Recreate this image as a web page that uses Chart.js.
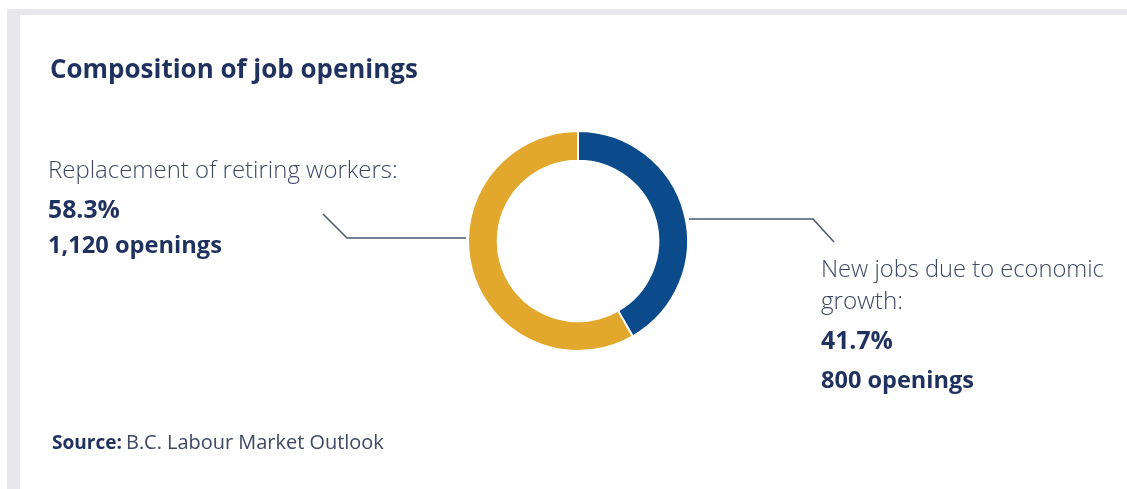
<!DOCTYPE html>
<html>
<head>
<meta charset="utf-8">
<script src="https://cdn.jsdelivr.net/npm/chart.js@4.4.1/dist/chart.umd.min.js"></script>
<style>
  html, body { margin: 0; padding: 0; background: #fff; }
  #wrap { position: relative; width: 1127px; height: 489px; background: #fff; }
  #topband { position: absolute; left: 7px; top: 9px; width: 1120px; height: 6px; background: #e7e7ec; }
  #leftband { position: absolute; left: 7px; top: 9px; width: 13px; height: 480px; background: #e7e7ec; }
  canvas { position: absolute; left: 0; top: 0; }
</style>
</head>
<body>
<div id="wrap">
  <div id="topband"></div>
  <div id="leftband"></div>
  <canvas id="donut" width="1127" height="489"></canvas>
</div>
<script>
var title = 'Composition of job openings';
var categories = ['New jobs due to economic growth', 'Replacement of retiring workers'];
var shares = [41.7, 58.3];
var openings = [800, 1120];
var colors = ['#0b4a8b', '#e2a82d'];

var navy = '#1f315e';
var grey = '#3e4863';

// draws a string so it fills the given width (font size adjusted)
function fitText(ctx, str, x, y, width, weight, family) {
    var size = 20;
    ctx.font = weight + ' ' + size + 'px ' + family;
    size = size * width / ctx.measureText(str).width;
    ctx.font = weight + ' ' + size + 'px ' + family;
    ctx.fillText(str, x, y);
    return size;
}

var annotations = {
    id: 'annotations',
    afterDraw: function(chart) {
        var ctx = chart.ctx;
        ctx.save();
        ctx.textBaseline = 'alphabetic';
        ctx.textAlign = 'left';

        ctx.fillStyle = navy;
        fitText(ctx, title, 50, 78, 368, 'bold', '"Open Sans"');

        // left label (retiring workers)
        ctx.fillStyle = grey;
        fitText(ctx, categories[1] + ':', 48, 178, 350, '300', '"Open Sans"');
        ctx.fillStyle = navy;
        fitText(ctx, shares[1].toFixed(1) + '%', 48, 218, 72, 'bold', '"Open Sans"');
        fitText(ctx, openings[1].toLocaleString('en-US') + ' openings', 48, 253, 174, 'bold', '"Open Sans"');

        // right label (economic growth)
        ctx.fillStyle = grey;
        fitText(ctx, 'New jobs due to economic', 821, 277, 283, '300', '"Open Sans"');
        fitText(ctx, 'growth:', 821, 309, 82, '300', '"Open Sans"');
        ctx.fillStyle = navy;
        fitText(ctx, shares[0].toFixed(1) + '%', 821, 349, 72, 'bold', '"Open Sans"');
        fitText(ctx, openings[0].toLocaleString('en-US') + ' openings', 821, 388, 153, 'bold', '"Open Sans"');

        // source
        ctx.fillStyle = navy;
        fitText(ctx, 'Source:', 52, 449, 70, 'bold', '"Open Sans"');
        ctx.fillStyle = grey;
        fitText(ctx, 'B.C. Labour Market Outlook', 126, 449, 258, 'normal', '"Open Sans"');

        // leader lines
        ctx.strokeStyle = '#4a5670';
        ctx.lineWidth = 1.5;
        ctx.beginPath();
        ctx.moveTo(323, 214);
        ctx.lineTo(347, 238);
        ctx.lineTo(466, 238);
        ctx.stroke();
        ctx.beginPath();
        ctx.moveTo(689, 219);
        ctx.lineTo(813, 219);
        ctx.lineTo(834, 242);
        ctx.stroke();
        ctx.restore();
    }
};

new Chart(document.getElementById('donut').getContext('2d'), {
    type: 'doughnut',
    data: {
        labels: categories,
        datasets: [{
            data: shares,
            backgroundColor: colors,
            borderColor: '#ffffff',
            borderWidth: 2
        }]
    },
    options: {
        responsive: false,
        animation: false,
        cutout: '73%',
        layout: { padding: { left: 467, right: 438, top: 130, bottom: 137 } },
        plugins: { legend: { display: false }, tooltip: { enabled: false } }
    },
    plugins: [annotations]
});
</script>
</body>
</html>
